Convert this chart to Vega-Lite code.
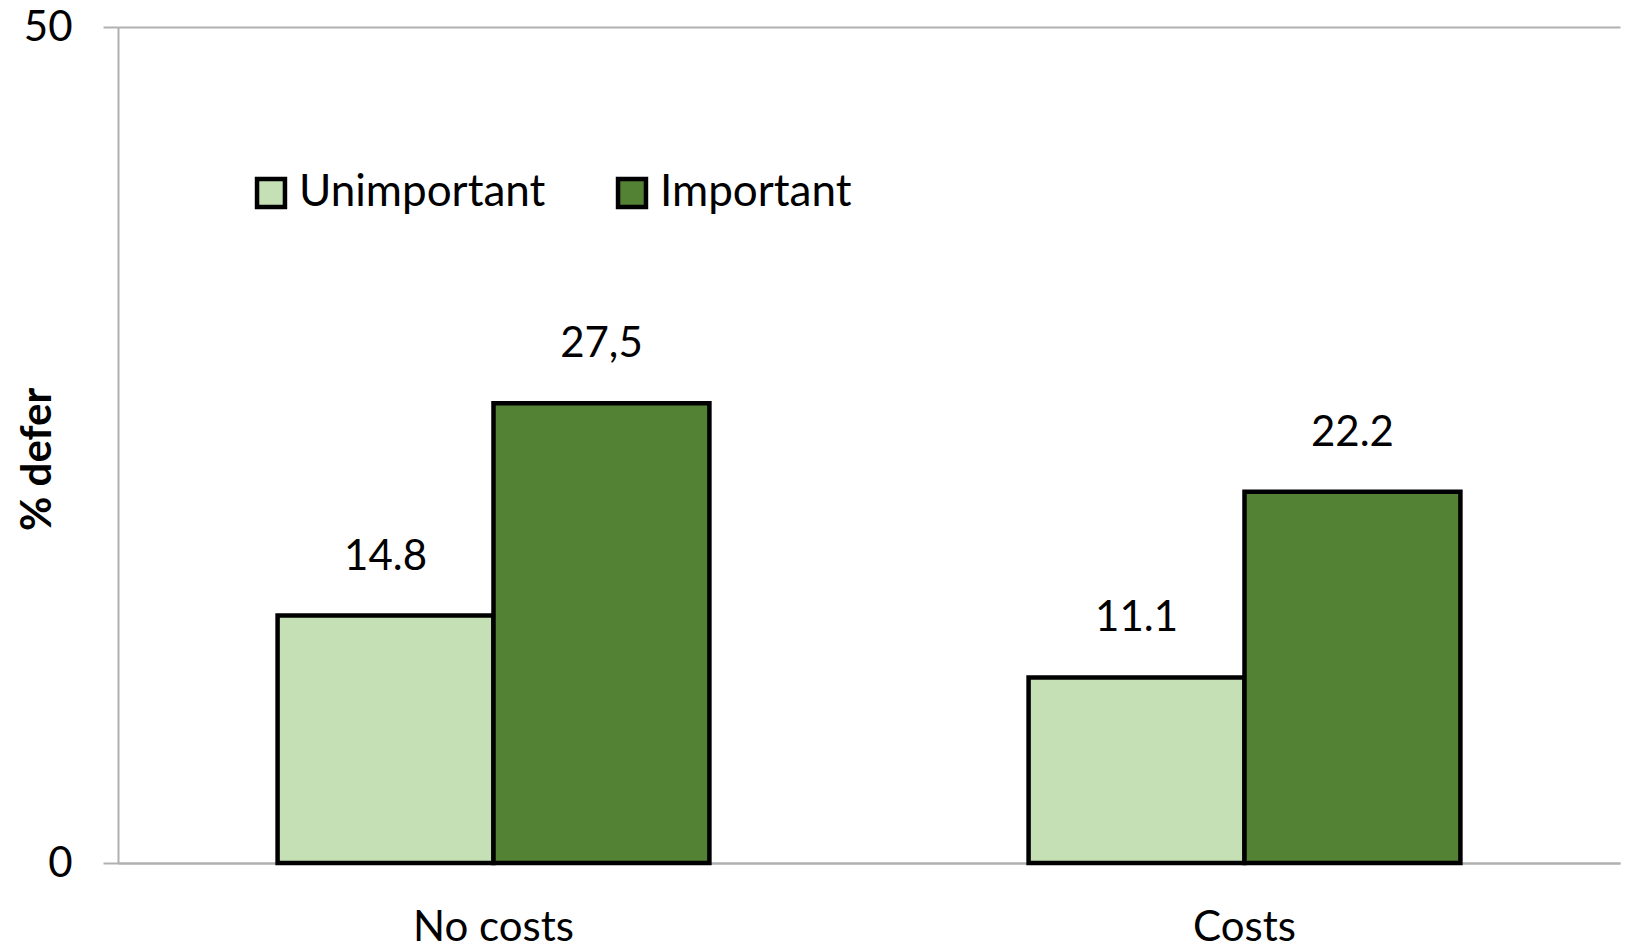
{
  "$schema": "https://vega.github.io/schema/vega-lite/v6.json",
  "autosize": {"type": "none"},
  "padding": {"left": 118, "top": 27, "right": 7, "bottom": 85},
  "width": 1502,
  "height": 836,
  "background": "white",
  "config": {
    "font": "Lato",
    "view": {"stroke": null},
    "axis": {"labelFont": "Lato", "titleFont": "Lato", "labelColor": "black", "titleColor": "black"}
  },
  "data": {
    "values": [
      {"condition": "No costs", "importance": "Unimportant", "defer": 14.8, "label": "14.8"},
      {"condition": "No costs", "importance": "Important", "defer": 27.5, "label": "27,5"},
      {"condition": "Costs", "importance": "Unimportant", "defer": 11.1, "label": "11.1"},
      {"condition": "Costs", "importance": "Important", "defer": 22.2, "label": "22.2"}
    ]
  },
  "encoding": {
    "x": {
      "field": "condition",
      "type": "nominal",
      "sort": ["No costs", "Costs"],
      "scale": {"paddingInner": 0.425, "paddingOuter": 0.2125},
      "axis": {
        "title": null,
        "labelAngle": 0,
        "labelFontSize": 42,
        "labelPadding": 44,
        "ticks": false,
        "domainColor": "#b0b0b0",
        "domainWidth": 2
      }
    },
    "xOffset": {
      "field": "importance",
      "type": "nominal",
      "sort": ["Unimportant", "Important"],
      "scale": {"paddingInner": 0, "paddingOuter": 0}
    },
    "y": {
      "field": "defer",
      "type": "quantitative",
      "scale": {"domain": [0, 50], "nice": false},
      "axis": {
        "title": "% defer",
        "titleFontSize": 42,
        "titleFontWeight": "bold",
        "titleX": -68,
        "titleY": 432,
        "titleAngle": 270,
        "titleAlign": "center",
        "titleBaseline": "alphabetic",
        "values": [0, 50],
        "labelFontSize": 42,
        "labelPadding": 31,
        "tickSize": 15,
        "tickColor": "#b0b0b0",
        "tickWidth": 2,
        "domainColor": "#b0b0b0",
        "domainWidth": 2,
        "grid": true,
        "gridColor": "#b0b0b0",
        "gridWidth": 2
      }
    }
  },
  "layer": [
    {
      "mark": {"type": "bar", "stroke": "black", "strokeWidth": 4.5, "strokeJoin": "miter"},
      "encoding": {
        "color": {
          "field": "importance",
          "type": "nominal",
          "sort": ["Unimportant", "Important"],
          "scale": {"domain": ["Unimportant", "Important"], "range": ["#C5E0B4", "#548235"]},
          "legend": {
            "title": null,
            "orient": "none",
            "direction": "horizontal",
            "legendX": 131,
            "legendY": 144,
            "symbolType": "square",
            "symbolSize": 780,
            "symbolStrokeColor": "black",
            "symbolStrokeWidth": 4.5,
            "symbolOpacity": 1,
            "labelFontSize": 44,
            "labelFont": "Lato",
            "labelColor": "black",
            "labelLimit": 0,
            "labelOffset": 6,
            "columnPadding": 63,
            "padding": 0
          }
        }
      }
    },
    {
      "mark": {"type": "text", "fontSize": 42, "baseline": "alphabetic", "dy": -46, "color": "black"},
      "encoding": {
        "text": {"field": "label"}
      }
    }
  ]
}
